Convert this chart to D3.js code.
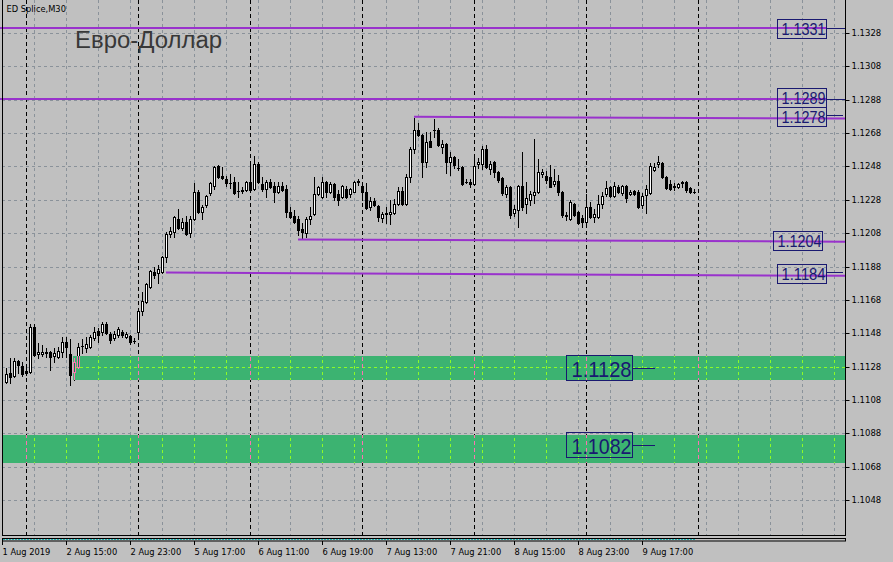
<!DOCTYPE html>
<html><head><meta charset="utf-8">
<script src="https://cdn.jsdelivr.net/npm/d3@7"></script>
<style>
html,body{margin:0;padding:0;background:#c0c0c0;overflow:hidden;}
svg{display:block;}
</style></head><body>
<svg id="c" width="893" height="562"></svg>
<script>
// ---- data (EURUSD M30, bars 1..173) ----
const firstBar = 1;
const opens = [1.11191,1.11245,1.11227,1.11317,1.11287,1.11257,1.11251,1.11521,1.11359,1.11359,1.11368,1.11371,1.11347,1.11341,1.11371,1.11431,1.11359,1.11251,1.11281,1.11409,
1.11395,1.11401,1.11455,1.11497,1.11491,1.11539,1.11479,1.11455,1.11473,1.11491,1.11461,1.11467,1.11437,1.11491,1.11617,1.11671,1.11761,1.11851,1.11845,1.11851,
1.11941,1.12079,1.12091,1.12169,1.12115,1.12151,1.12085,1.12169,1.12331,1.12211,1.12253,1.12325,1.12367,1.12487,1.12427,1.12409,1.12385,1.12391,1.12337,1.12337,
1.12343,1.12391,1.12349,1.12499,1.12379,1.12349,1.12391,1.12367,1.12331,1.12367,1.12349,1.12211,1.12187,1.12169,1.12109,1.12085,1.12169,1.12199,1.12319,1.12301,
1.12391,1.12331,1.12379,1.12319,1.12301,1.12349,1.12319,1.12331,1.12391,1.12367,1.12331,1.12241,1.12277,1.12247,1.12175,1.12199,1.12199,1.12205,1.12259,1.12337,
1.12259,1.12421,1.12589,1.12703,1.12673,1.12511,1.12637,1.12703,1.12703,1.12601,1.12619,1.12511,1.12541,1.12475,1.12481,1.12391,1.12391,1.12379,1.12499,1.12499,
1.12589,1.12469,1.12511,1.12451,1.12415,1.12319,1.12361,1.12205,1.12223,1.12367,1.12259,1.12283,1.12313,1.12331,1.12439,1.12427,1.12421,1.12379,1.12397,1.12331,
1.12187,1.12169,1.12259,1.12211,1.12175,1.12151,1.12241,1.12181,1.12181,1.12259,1.12319,1.12361,1.12307,1.12361,1.12325,1.12367,1.12319,1.12337,1.12331,1.12253,
1.12313,1.12325,1.12463,1.12499,1.12505,1.12421,1.12379,1.12361,1.12361,1.12385,1.12391,1.12355,1.12331];
const highs = [1.11275,1.11335,1.11335,1.11323,1.11311,1.11293,1.11539,1.11539,1.11425,1.11413,1.11395,1.11377,1.11395,1.11401,1.11461,1.11461,1.11449,1.11335,1.11425,1.11449,
1.11461,1.11473,1.11521,1.11515,1.11551,1.11551,1.11491,1.11497,1.11521,1.11503,1.11491,1.11473,1.11455,1.11623,1.11731,1.11785,1.11863,1.11881,1.11893,1.11947,
1.12091,1.12121,1.12187,1.12229,1.12175,1.12187,1.12187,1.12385,1.12343,1.12253,1.12313,1.12391,1.12487,1.12493,1.12481,1.12427,1.12439,1.12421,1.12391,1.12361,
1.12397,1.12505,1.12547,1.12511,1.12421,1.12403,1.12409,1.12391,1.12391,1.12391,1.12373,1.12241,1.12223,1.12187,1.12145,1.12181,1.12241,1.12421,1.12367,1.12421,
1.12397,1.12391,1.12385,1.12343,1.12373,1.12367,1.12355,1.12397,1.12409,1.12385,1.12385,1.12301,1.12295,1.12253,1.12211,1.12241,1.12283,1.12289,1.12361,1.12361,
1.12439,1.12601,1.12775,1.12745,1.12679,1.12691,1.12691,1.12769,1.12715,1.12643,1.12625,1.12571,1.12547,1.12529,1.12487,1.12409,1.12409,1.12535,1.12535,1.12607,
1.12613,1.12517,1.12517,1.12457,1.12421,1.12373,1.12367,1.12253,1.12373,1.12571,1.12391,1.12337,1.12649,1.12529,1.12469,1.12457,1.12493,1.12469,1.12433,1.12337,
1.12211,1.12283,1.12265,1.12217,1.12193,1.12319,1.12271,1.12229,1.12313,1.12331,1.12397,1.12367,1.12391,1.12373,1.12373,1.12373,1.12343,1.12343,1.12343,1.12325,
1.12373,1.12505,1.12505,1.12547,1.12511,1.12427,1.12403,1.12385,1.12385,1.12397,1.12397,1.12361,1.12349];
const lows = [1.11185,1.11185,1.11221,1.11245,1.11227,1.11233,1.11245,1.11347,1.11335,1.11347,1.11341,1.11263,1.11311,1.11335,1.11341,1.11341,1.11173,1.11203,1.11275,1.11365,
1.11371,1.11395,1.11443,1.11431,1.11473,1.11479,1.11425,1.11443,1.11461,1.11461,1.11455,1.11419,1.11425,1.11473,1.11593,1.11665,1.11755,1.11815,1.11785,1.11845,
1.11911,1.12061,1.12061,1.12109,1.12103,1.12073,1.12061,1.12163,1.12205,1.12169,1.12241,1.12313,1.12349,1.12415,1.12409,1.12367,1.12355,1.12320,1.12301,1.12325,
1.12337,1.12331,1.12343,1.12385,1.12337,1.12301,1.12355,1.12271,1.12325,1.12337,1.12181,1.12175,1.12145,1.12073,1.12055,1.12061,1.12139,1.12193,1.12313,1.12295,
1.12301,1.12325,1.12283,1.12253,1.12295,1.12295,1.12301,1.12328,1.12373,1.12283,1.12229,1.12223,1.12247,1.12157,1.12151,1.12145,1.12139,1.12199,1.12253,1.12253,
1.12253,1.12391,1.12565,1.12667,1.12421,1.12481,1.12598,1.12661,1.12607,1.12565,1.12445,1.12433,1.12475,1.12463,1.12373,1.12385,1.12361,1.12373,1.12475,1.12469,
1.12475,1.12439,1.12421,1.12391,1.12313,1.12301,1.12175,1.12187,1.12121,1.12223,1.12205,1.12253,1.12265,1.12325,1.12421,1.12385,1.12358,1.12367,1.12313,1.12181,
1.12163,1.12163,1.12187,1.12139,1.12121,1.12121,1.12175,1.12151,1.12175,1.12235,1.12307,1.12301,1.12301,1.12325,1.12313,1.12271,1.12313,1.12313,1.12235,1.12235,
1.12205,1.12319,1.12457,1.12481,1.12415,1.12349,1.12343,1.12343,1.12355,1.12361,1.12331,1.12325,1.12321];
const closes = [1.11239,1.11221,1.11317,1.11293,1.11239,1.11245,1.11521,1.11353,1.11371,1.11371,1.11365,1.11341,1.11365,1.11377,1.11431,1.11401,1.11233,1.11311,1.11401,1.11406,
1.11419,1.11461,1.11491,1.11473,1.11539,1.11485,1.11443,1.11479,1.11509,1.11473,1.11479,1.11431,1.11437,1.11617,1.11677,1.11779,1.11857,1.11833,1.11869,1.11941,
1.12079,1.12097,1.12181,1.12115,1.12151,1.12079,1.12169,1.12331,1.12211,1.12241,1.12307,1.12385,1.12481,1.12421,1.12415,1.12385,1.12383,1.12325,1.12337,1.12339,
1.12391,1.12343,1.12499,1.12391,1.12349,1.12391,1.12361,1.12331,1.12367,1.12343,1.12211,1.12181,1.12151,1.12103,1.12091,1.12169,1.12187,1.12319,1.12361,1.12391,
1.12331,1.12379,1.12301,1.12283,1.12367,1.12301,1.12349,1.12391,1.12393,1.12331,1.12235,1.12277,1.12253,1.12181,1.12199,1.12201,1.12211,1.12259,1.12337,1.12259,
1.12421,1.12589,1.12703,1.12673,1.12511,1.12631,1.12601,1.12701,1.12613,1.12619,1.12511,1.12541,1.12493,1.12473,1.12379,1.12390,1.12379,1.12487,1.12511,1.12589,
1.12481,1.12499,1.12451,1.12403,1.12325,1.12361,1.12193,1.12229,1.12367,1.12241,1.12295,1.12319,1.12331,1.12451,1.12451,1.12403,1.12361,1.12397,1.12331,1.12193,
1.12189,1.12271,1.12193,1.12145,1.12151,1.12241,1.12181,1.12199,1.12259,1.12307,1.12355,1.12307,1.12367,1.12331,1.12367,1.12295,1.12331,1.12319,1.12241,1.12307,
1.12349,1.12487,1.12481,1.12511,1.12421,1.12355,1.12349,1.12363,1.12379,1.12387,1.12343,1.12331,1.12329];

const priceTicks = [1.1328,1.1308,1.1288,1.1268,1.1248,1.1228,1.1208,1.1188,1.1168,1.1148,1.1128,1.1108,1.1088,1.1068,1.1048];
const timeLabels = ["1 Aug 2019","2 Aug 15:00","2 Aug 23:00","5 Aug 17:00","6 Aug 11:00","6 Aug 19:00","7 Aug 13:00","7 Aug 21:00","8 Aug 15:00","8 Aug 23:00","9 Aug 17:00"];
const timeLabelBars = [0,16,32,48,64,80,96,112,128,144,160];
const separatorBars = [6,34,62,90,118,146,174];
const levelPrices = [1.1331,1.1289];
const trendStartBars = [103,74,41];
const trendStartPrices = [1.12781,1.12045,1.11847];
const trendEndBar = 210.75;
const trendEndPrices = [1.12770,1.12032,1.11827];
const zoneStartBars = [17.75,0.25];
const zoneTops = [1.11346,1.10873];
const zoneBottoms = [1.11203,1.10702];
const smallLabels = ["1.1331","1.1289","1.1278","1.1204","1.1184"];
const smallLabelPrices = [1.1331,1.1289,1.1278,1.1204,1.1184];
const bigLabels = ["1.1128","1.1082"];
const bigLabelPrices = [1.1128,1.1082];

// ---- layout ----
const plotLeft = 2, plotRight = 845, plotTop = 0, plotBottom = 535;
const svg = d3.select("#c");
const x = d3.scaleLinear().domain([0,1]).range([2,6]);
const y = d3.scaleLinear().domain([1.1048,1.1328]).range([500.5,33.5]);
const px = i => Math.floor(x(i));
const py = p => Math.floor(y(p));

const bars = opens.map((o,i)=>({i:i+firstBar,o,h:highs[i],l:lows[i],c:closes[i]}));

const normal = {black:"#000000", white:"#ffffff", grid:"#8a929a"};
const inZone = {black:"#fc73b1", white:"#038c4e", grid:"#8bfb28"};

svg.append("rect").attr("width",893).attr("height",562).attr("fill","#c0c0c0");

const defs = svg.append("defs");
const clip = defs.append("clipPath").attr("id","zclip");
zoneTops.forEach((t,k)=>{
  clip.append("rect").attr("x",Math.round(x(zoneStartBars[k]))).attr("y",Math.round(y(t)))
    .attr("width",plotRight-Math.round(x(zoneStartBars[k]))).attr("height",Math.round(y(zoneBottoms[k]))-Math.round(y(t)));
});
const plotClip = defs.append("clipPath").attr("id","pclip");
plotClip.append("rect").attr("x",plotLeft+1).attr("y",plotTop).attr("width",plotRight-plotLeft-1).attr("height",plotBottom-plotTop);

function drawLayer(g, col){
  // grid
  priceTicks.forEach(t=>{
    g.append("line").attr("x1",plotLeft).attr("x2",plotRight).attr("y1",py(t)+0.5).attr("y2",py(t)+0.5)
      .attr("stroke",col.grid).attr("stroke-width",1).attr("stroke-dasharray","3,3");
  });
  for(let b=0;b<=210;b+=8){
    const xx = px(b)+0.5;
    if(xx>plotRight) break;
    g.append("line").attr("x1",xx).attr("x2",xx).attr("y1",plotTop).attr("y2",plotBottom)
      .attr("stroke",col.grid).attr("stroke-width",1).attr("stroke-dasharray","3,3");
  }
  // period separators
  separatorBars.forEach(b=>{
    const xx = px(b)+0.5;
    g.append("line").attr("x1",xx).attr("x2",xx).attr("y1",plotTop).attr("y2",plotBottom)
      .attr("stroke",col.black).attr("stroke-width",1).attr("stroke-dasharray","4,3");
  });
  // candles
  bars.forEach(d=>{
    const cx = px(d.i);
    const yh = Math.round(y(d.h)), yl = Math.round(y(d.l));
    g.append("rect").attr("x",cx).attr("y",yh).attr("width",1).attr("height",Math.max(1,yl-yh+1)).attr("fill",col.black);
    const top = Math.round(y(Math.max(d.o,d.c))), bot = Math.round(y(Math.min(d.o,d.c)));
    if(bot-top<1){
      g.append("rect").attr("x",cx-1).attr("y",top).attr("width",3).attr("height",1).attr("fill",col.black);
    } else if(d.c<d.o){
      g.append("rect").attr("x",cx-1).attr("y",top).attr("width",3).attr("height",bot-top+1).attr("fill",col.black);
    } else {
      g.append("rect").attr("x",cx-0.5).attr("y",top+0.5).attr("width",2).attr("height",bot-top)
        .attr("fill",col.white).attr("stroke",col.black).attr("stroke-width",1);
    }
  });
}

const base = svg.append("g").attr("clip-path","url(#pclip)");
drawLayer(base, normal);

// zones
const zones = svg.append("g");
zoneTops.forEach((t,k)=>{
  const x0 = Math.round(x(zoneStartBars[k]));
  zones.append("rect").attr("x",x0).attr("y",Math.round(y(t)))
    .attr("width",plotRight-x0).attr("height",Math.round(y(zoneBottoms[k]))-Math.round(y(t)))
    .attr("fill","#3cb371");
});
const over = svg.append("g").attr("clip-path","url(#zclip)");
drawLayer(over, inZone);

// purple level lines
const purple = "#9932cc", navy = "#191970";
levelPrices.forEach(p=>{
  const yy = Math.round(y(p));
  svg.append("line").attr("x1",0).attr("x2",827).attr("y1",yy).attr("y2",yy)
    .attr("stroke",purple).attr("stroke-width",2);
  svg.append("line").attr("x1",827).attr("x2",plotRight).attr("y1",yy+0.5).attr("y2",yy+0.5)
    .attr("stroke",navy).attr("stroke-width",1);
});
trendStartBars.forEach((b,k)=>{
  svg.append("line").attr("x1",x(b)).attr("x2",x(trendEndBar))
    .attr("y1",y(trendStartPrices[k])).attr("y2",y(trendEndPrices[k]))
    .attr("stroke",purple).attr("stroke-width",2);
});

// small labels (boxes)
const smallBoxX = [777,777,777,773,777];
smallLabels.forEach((s,k)=>{
  let cy = y(smallLabelPrices[k]);
  let top = Math.round(cy - 9.5);
  if(k===1) top = 88; if(k===2) top = 107;
  const bx = smallBoxX[k];
  svg.append("rect").attr("x",bx+0.5).attr("y",top+0.5).attr("width",49).attr("height",19)
    .attr("fill","none").attr("stroke",navy).attr("stroke-width",1);
  svg.append("text").attr("x",bx+4.5).attr("y",top+16)
    .attr("font-family","Liberation Sans, Arial, sans-serif").attr("font-size",16)
    .attr("textLength",44).attr("lengthAdjust","spacingAndGlyphs")
    .attr("fill",navy).text(s);
});
// tails for 1.1278 and 1.1184 labels
[2,4].forEach(k=>{
  const yy = Math.floor(y(smallLabelPrices[k]))+0.5 - 1;
  svg.append("line").attr("x1",827).attr("x2",843).attr("y1",yy).attr("y2",yy).attr("stroke",navy).attr("stroke-width",1);
});

// big labels
bigLabels.forEach((s,k)=>{
  const cy = y(bigLabelPrices[k]);
  const top = Math.round(cy - 12);
  svg.append("rect").attr("x",566.5).attr("y",top+0.5).attr("width",66).attr("height",25)
    .attr("fill","none").attr("stroke",navy).attr("stroke-width",1);
  svg.append("line").attr("x1",633).attr("x2",655).attr("y1",top+13.5).attr("y2",top+13.5)
    .attr("stroke",navy).attr("stroke-width",1);
  svg.append("text").attr("x",571.5).attr("y",top+21.5)
    .attr("font-family","Liberation Sans, Arial, sans-serif").attr("font-size",22)
    .attr("textLength",60).attr("lengthAdjust","spacingAndGlyphs")
    .attr("fill",navy).text(s);
});

// frame
svg.append("line").attr("x1",plotLeft+0.5).attr("x2",plotLeft+0.5).attr("y1",0).attr("y2",plotBottom+1).attr("stroke","#000");
svg.append("line").attr("x1",plotRight+0.5).attr("x2",plotRight+0.5).attr("y1",0).attr("y2",plotBottom+1).attr("stroke","#000");
svg.append("line").attr("x1",plotLeft).attr("x2",plotRight+1).attr("y1",plotBottom+0.5).attr("y2",plotBottom+0.5).attr("stroke","#000");
// bottom indicator strip
svg.append("rect").attr("x",plotLeft+0.5).attr("y",538.5).attr("width",plotRight-plotLeft).attr("height",2.5)
  .attr("fill","none").attr("stroke","#000").attr("stroke-width",1);
svg.append("line").attr("x1",plotLeft+1).attr("x2",695).attr("y1",539.5).attr("y2",539.5)
  .attr("stroke","#20b0b0").attr("stroke-width",1).attr("stroke-dasharray","2,1");

// right price axis
const yAxis = d3.axisRight(y).tickValues(priceTicks).tickSize(4).tickPadding(2).tickFormat(d3.format(".4f"));
const ya = svg.append("g").attr("transform",`translate(${plotRight+0.5},0)`).call(yAxis);
ya.select(".domain").remove();
ya.selectAll(".tick").attr("transform",d=>`translate(0,${py(d)+0.5})`);
ya.selectAll(".tick line").attr("stroke","#000");
ya.selectAll(".tick text").attr("font-family","DejaVu Sans, sans-serif").attr("font-size",8.5).attr("fill","#000").attr("dy","0.34em");

// bottom time axis
const xAxis = d3.axisBottom(x).tickValues(timeLabelBars).tickSize(4).tickFormat((d,i)=>timeLabels[i]);
const xa = svg.append("g").attr("transform","translate(0,541)").call(xAxis);
xa.select(".domain").remove();
xa.selectAll(".tick").attr("transform",d=>`translate(${px(d)+0.5},0)`);
xa.selectAll(".tick line").attr("stroke","#000");
xa.selectAll(".tick text").attr("font-family","DejaVu Sans, sans-serif").attr("font-size",8.3).attr("fill","#000")
  .attr("text-anchor","start").attr("x",0).attr("y",13.5).attr("dy",0);

// titles
svg.append("text").attr("x",6.5).attr("y",11.5).attr("font-family","DejaVu Sans, sans-serif").attr("font-size",8.3)
  .attr("fill","#000").text("ED Splice,M30");
svg.append("text").attr("x",75).attr("y",48.3).attr("font-family","Liberation Sans, Arial, sans-serif").attr("font-size",23)
  .attr("textLength",147).attr("lengthAdjust","spacingAndGlyphs").attr("fill","#383838").text("Евро-Доллар");
</script>
</body></html>
